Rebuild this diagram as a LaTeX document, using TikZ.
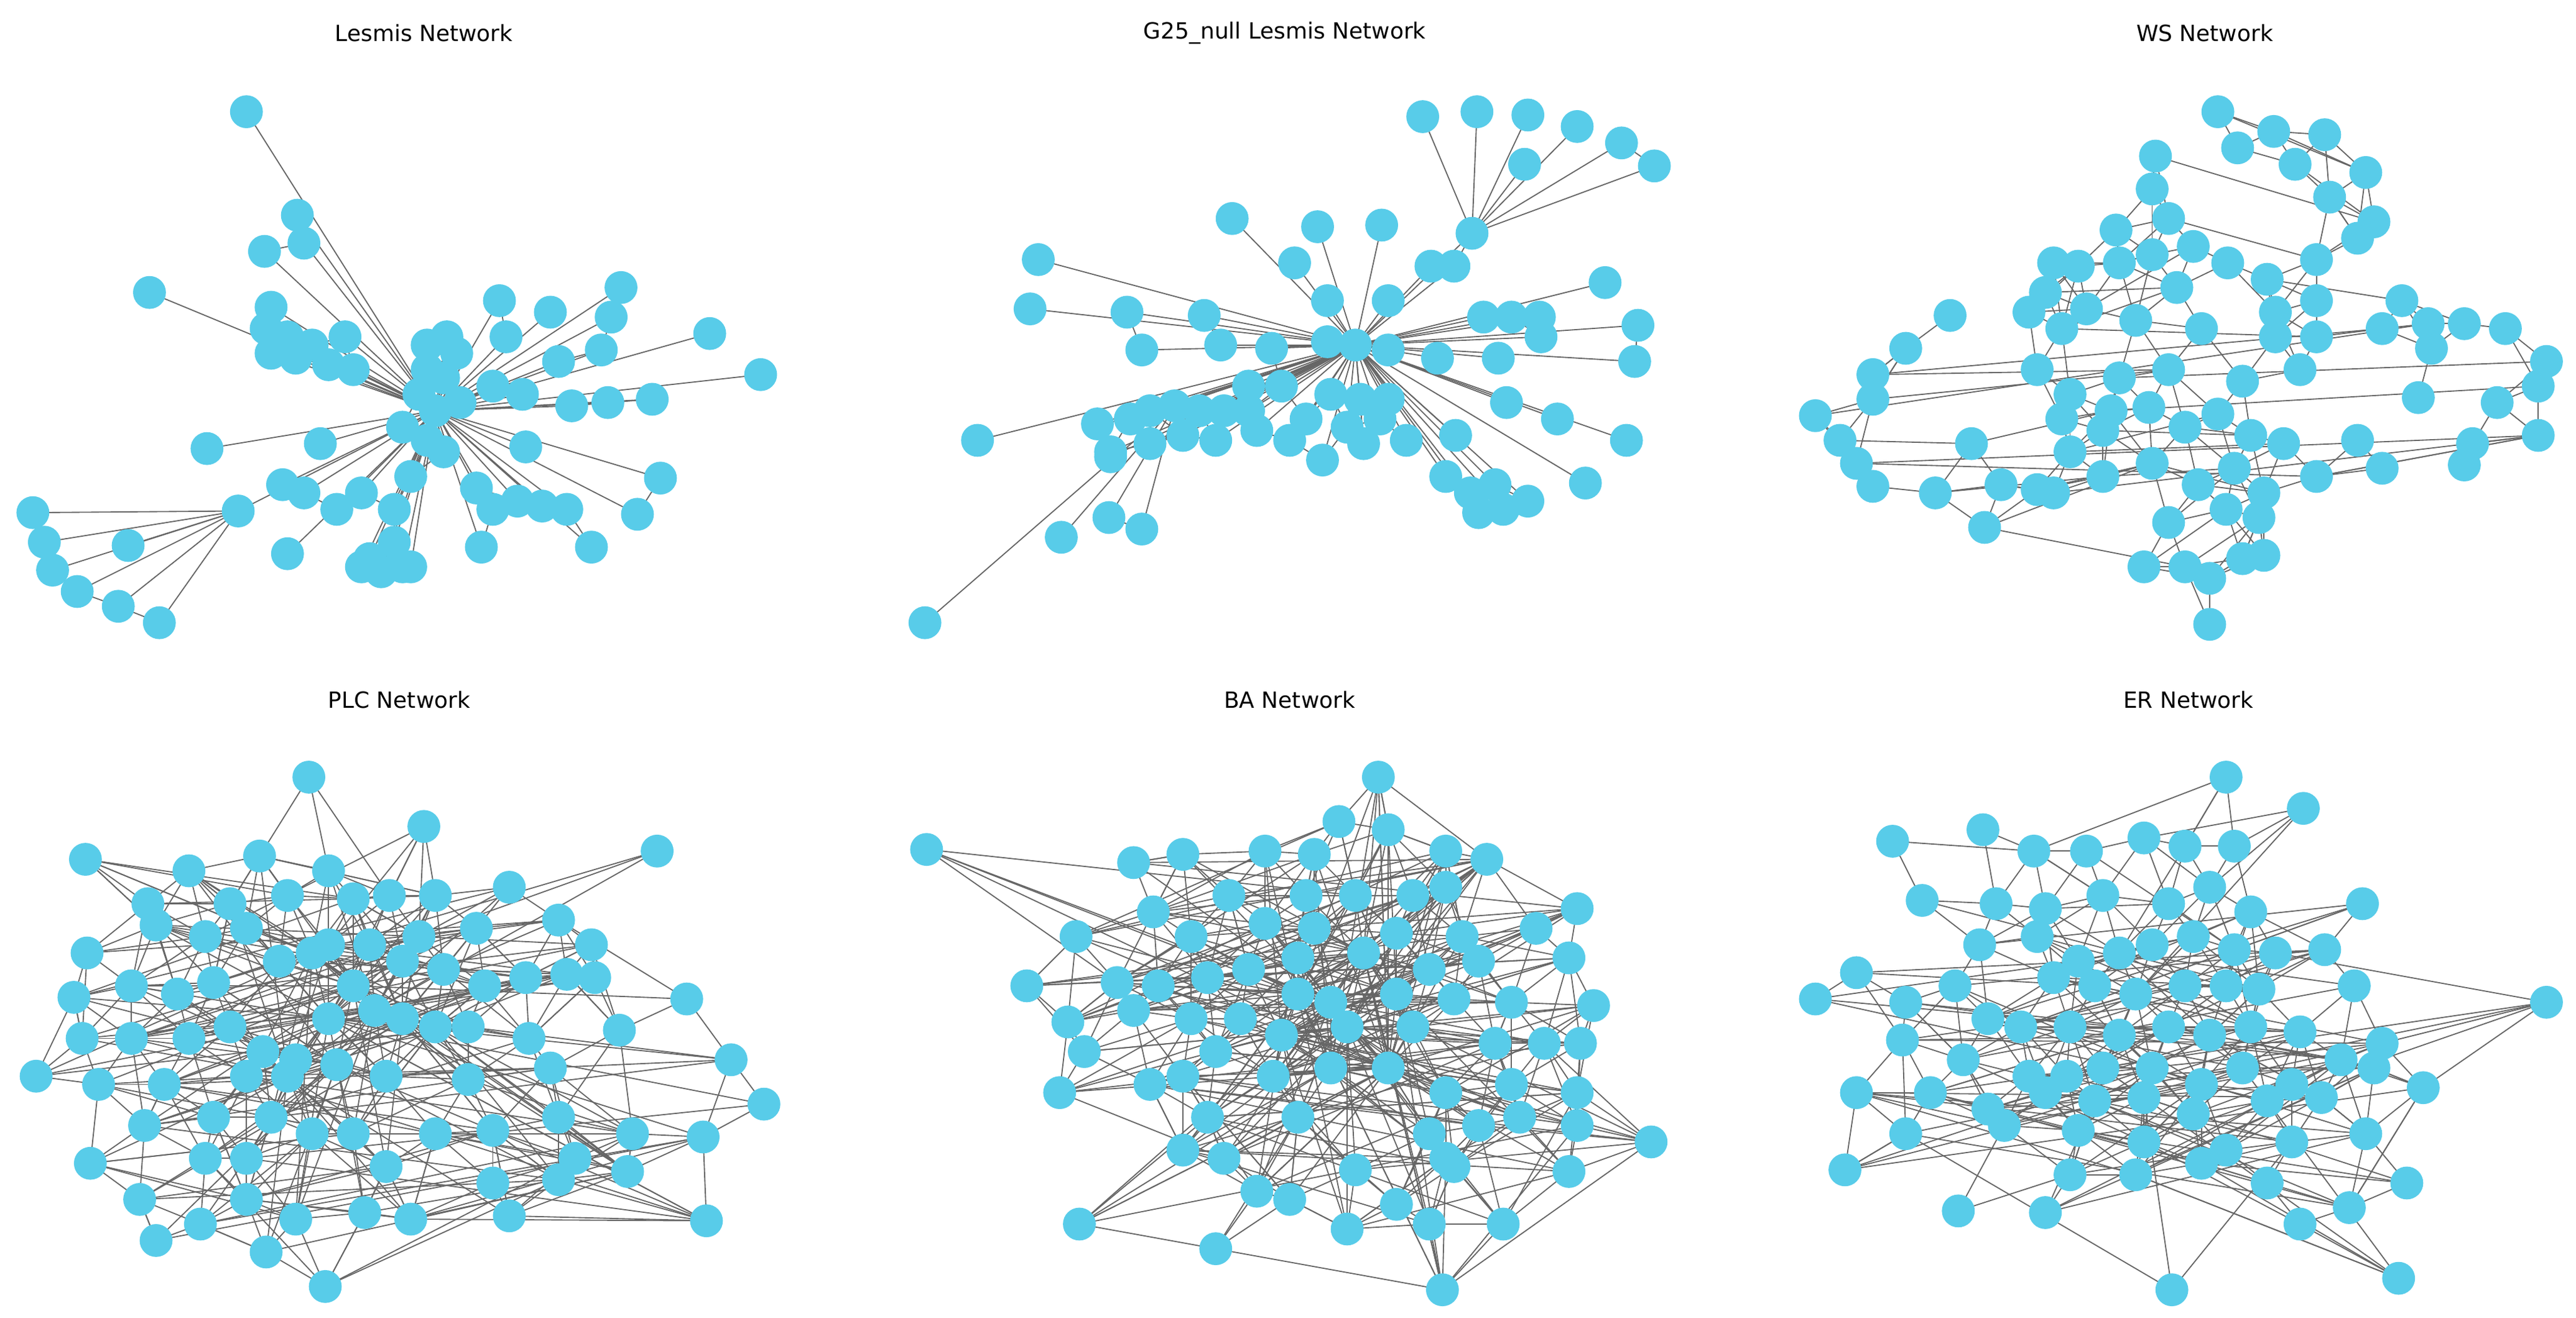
\documentclass[tikz,border=0pt]{standalone}
\usepackage{fontspec}
\setmainfont{DejaVu Sans}
\definecolor{nodec}{RGB}{88,204,233}
\tikzset{edge/.style={draw=black!60,line width=0.35pt},
 dot/.style={circle,fill=nodec,draw=none,minimum size=10pt,inner sep=0pt},
 ttl/.style={font=\fontsize{6.8}{8}\selectfont,anchor=center}}
\newcommand\panel[6]{% prefix, list macro, threshold, random count, span, seed
 \foreach \x/\y/\h [count=\i] in #2 {\coordinate (#1\i) at (\x,\y); \xdef\NN{\i}}
 \foreach \x/\y/\h [count=\i] in #2 {\ifnum\h>0 \draw[edge] (#1\i)--(#1\h);\fi}
 \foreach \xa/\ya/\ha [count=\i] in #2 {\foreach \xb/\yb/\hb [count=\j] in #2 {%
   \ifnum\j>\i \pgfmathparse{veclen(\xa-\xb,\ya-\yb)<#3?1:0}\ifnum\pgfmathresult=1 \draw[edge](#1\i)--(#1\j);\fi\fi}}
 \ifnum#4>0
 \pgfmathsetseed{#6}
 \foreach \k in {1,...,#4}{\pgfmathrandominteger{\ra}{1}{\NN}\pgfmathrandominteger{\rd}{1}{#5}%
   \pgfmathtruncatemacro{\rb}{\ra+\rd>\NN?\ra-\rd:\ra+\rd}\ifnum\rb>0 \draw[edge](#1\ra)--(#1\rb);\fi}
 \fi
}
\newcommand\hubedges[4]{% prefix, count, hub list {{a}{b}..}, seed
 \pgfmathsetseed{#4}
 \pgfmathdeclarerandomlist{hl#1}{#3}
 \foreach \k in {1,...,#2}{\pgfmathrandominteger{\ra}{1}{\NN}\pgfmathrandomitem{\rh}{hl#1}%
   \ifnum\ra=\rh\relax\else\draw[edge](#1\ra)--(#1\rh);\fi}
}
\newcommand\drawdots[2]{\foreach \x/\y/\h [count=\i] in #2 {\node[dot] (#1n\i) at (#1\i) {};}}
\begin{document}
\begin{tikzpicture}[x=0.5pt,y=-0.5pt]
\useasboundingbox (0,0) rectangle (1568,802);
\node[ttl] (t1) at (258,20) {Lesmis Network};
\node[ttl] (t2) at (782,20) {G25\_null Lesmis Network};
\node[ttl] (t3) at (1342,20) {WS Network};
\node[ttl] (t4) at (243,426) {PLC Network};
\node[ttl] (t5) at (785,426) {BA Network};
\node[ttl] (t6) at (1332,426) {ER Network};

\def\LA{150/68/21,181/131/21,185/148/21,161/153/21,91/178/21,165/187/21,162/200/21,175/205/21,190/210/21,210/205/21,165/215/21,180/218/21,200/222/21,215/225/21,260/210/21,272/205/21,278/215/21,260/225/21,270/230/21,255/240/21,265/250/20,280/245/21,300/235/21,245/260/21,260/268/21,270/275/21,304/183/21,335/190/21,378/175/21,372/193/21,308/205/21,366/213/21,432/203/21,463/228/21,340/220/21,318/240/21,348/247/21,370/245/21,397/243/21,126/273/21,195/270/21,320/272/21,250/290/21,290/297/21,220/300/21,172/295/21,185/300/21,145/311/21,240/310/21,300/310/21,315/305/21,330/308/21,402/291/21,388/313/21,345/310/21,20/312/48,27/330/48,78/332/48,32/347/48,47/360/48,72/369/48,97/379/48,175/337/21,225/340/21,240/330/21,245/345/21,220/345/21,232/348/21,250/345/21,293/333/21,360/333/21,205/310/21}
\panel{A}{\LA}{28}{0}{1}{1}\drawdots{A}{\LA}

\def\LB{866/71/8,899/68/8,930/70/8,960/77/8,987/87/8,1007/101/8,928/100/8,896/142/30,871/162/30,885/162/30,750/133/30,802/138/30,841/137/30,632/158/30,788/160/30,627/188/30,686/190/30,733/192/30,808/183/30,845/183/30,977/172/30,903/193/30,920/193/30,937/193/30,997/198/30,695/213/30,743/210/30,774/212/30,808/208/30,825/210/38,845/213/30,875/218/30,912/218/30,938/205/30,995/220/30,760/235/30,780/235/30,810/240/30,828/243/30,845/243/30,917/245/30,948/255/30,668/258/30,688/255/30,700/250/30,715/247/30,730/250/30,745/250/30,760/250/30,795/255/30,820/260/30,840/255/30,676/275/30,700/270/30,720/265/30,740/268/30,765/262/30,785/268/30,805/280/30,830/270/30,856/268/30,886/265/30,595/268/30,990/268/30,676/278/30,880/290/30,895/300/30,900/312/30,915/310/30,930/305/30,910/295/30,965/294/30,646/327/46,675/315/46,695/322/46,563/379/46}
\panel{B}{\LB}{25}{0}{1}{1}\drawdots{B}{\LB}

\def\LC{1350/68/0,1384/80/0,1415/82/0,1440/105/0,1362/90/0,1312/95/0,1397/100/0,1418/120/0,1445/135/0,1310/115/0,1320/133/0,1288/140/0,1435/145/0,1410/158/0,1250/160/0,1265/162/0,1290/160/0,1310/155/0,1335/150/0,1356/160/0,1380/170/0,1245/178/0,1270/188/0,1325/175/0,1385/190/0,1410/183/0,1462/183/0,1187/192/0,1235/190/0,1255/200/0,1300/195/0,1340/200/0,1385/205/0,1410/205/0,1450/200/0,1478/197/0,1500/197/0,1525/200/0,1160/212/0,1140/228/0,1140/243/0,1105/253/0,1240/225/0,1260/240/0,1290/230/0,1320/225/0,1365/232/0,1400/225/0,1480/212/0,1550/220/0,1545/235/0,1255/255/0,1285/250/0,1308/248/0,1350/252/0,1472/242/0,1520/245/0,1120/268/0,1200/270/0,1260/275/0,1280/262/0,1330/260/0,1370/265/0,1390/270/0,1435/268/0,1410/290/0,1450/285/0,1505/270/0,1500/283/0,1545/265/0,1130/282/0,1140/296/0,1178/300/0,1218/295/0,1250/300/0,1280/290/0,1310/282/0,1338/295/0,1360/285/0,1378/300/0,1208/321/0,1240/298/0,1355/310/0,1375/315/0,1320/318/0,1305/345/0,1330/345/0,1345/352/0,1365/340/0,1378/338/0,1345/380/0}
\panel{C}{\LC}{42}{40}{6}{3}\drawdots{C}{\LC}

\def\LD{188/473/5,52/523/0,115/530/0,158/521/0,200/530/0,258/503/0,310/540/0,400/518/0,90/550/0,140/550/0,175/545/0,215/547/0,237/545/0,265/545/0,53/580/0,95/563/0,125/570/0,150/565/0,200/575/0,225/575/0,255/570/0,290/565/0,340/560/0,360/575/0,45/607/0,80/600/0,108/605/0,130/598/0,170/585/0,190/580/0,215/600/0,245/585/0,270/590/0,295/600/0,320/595/0,345/593/0,362/595/0,418/608/0,50/632/0,80/632/0,115/632/0,140/625/0,160/640/0,180/645/0,200/620/0,228/615/0,245/620/0,265/625/0,285/625/0,322/632/0,377/627/0,22/655/0,60/660/0,100/660/0,150/655/0,175/655/0,205/648/0,235/655/0,285/657/0,335/650/0,445/645/0,465/672/0,88/685/0,130/680/0,165/680/0,190/690/0,215/690/0,265/690/0,300/688/0,340/680/0,385/690/0,428/692/0,55/708/0,125/705/0,150/705/0,235/710/0,300/720/0,340/718/0,350/705/0,382/713/0,85/730/0,122/745/0,150/730/0,180/742/0,222/738/0,250/742/0,310/740/0,430/743/0,95/755/0,162/762/0,198/783/0}
\panel{D}{\LD}{55}{150}{20}{5}
\hubedges{D}{110}{{30}{31}{45}{46}{47}{48}{56}{57}}{21}
\draw[edge] (D1)--(D13) (D1)--(D10);
\drawdots{D}{\LD}

\def\LE{839/473/0,815/500/0,845/505/0,564/517/26,690/525/0,720/520/0,770/518/0,800/520/0,880/518/0,905/523/0,702/555/0,748/545/0,795/545/0,825/545/0,860/545/0,880/540/0,960/553/0,655/570/0,725/570/0,770/562/0,800/565/0,850/568/0,890/570/0,935/565/0,625/600/0,680/598/0,705/600/0,735/595/0,760/590/0,790/583/0,830/580/0,870/590/0,900/585/0,955/583/0,650/622/0,690/615/0,725/620/0,755/620/0,790/605/0,810/610/0,850/605/0,885/608/0,920/610/0,970/612/0,660/640/0,740/640/0,780/630/0,820/625/0,860/625/0,910/635/0,940/635/0,962/635/0,645/665/0,700/660/0,720/655/0,775/655/0,810/650/0,845/650/0,880/665/0,920/660/0,960/665/0,735/680/0,790/680/0,870/690/0,900/685/0,925/680/0,960/685/0,1005/695/0,720/700/0,745/705/0,825/712/0,880/705/0,955/713/0,765/725/0,785/730/0,850/733/0,885/710/0,657/745/0,820/748/0,870/745/0,915/745/0,878/785/0,740/760/0}
\panel{E}{\LE}{55}{140}{20}{7}
\hubedges{E}{180}{{39}{40}{48}{57}{31}{47}{41}{58}}{13}
\drawdots{E}{\LE}

\def\LF{1355/473/0,1152/512/0,1207/505/0,1238/518/0,1270/518/0,1305/510/0,1330/515/0,1360/515/0,1402/492/0,1170/548/0,1215/550/0,1245/553/0,1280/545/0,1320/550/0,1345/540/0,1370/555/0,1438/550/0,1205/575/0,1240/570/0,1265/585/0,1290/580/0,1310/575/0,1335/570/0,1360/578/0,1385/580/0,1415/578/0,1130/592/0,1190/600/0,1250/595/0,1275/600/0,1300/605/0,1330/600/0,1355/600/0,1375/602/0,1433/600/0,1105/608/0,1160/610/0,1210/620/0,1230/625/0,1260/625/0,1290/630/0,1320/625/0,1345/630/0,1370/625/0,1400/628/0,1450/635/0,1550/610/68,1158/633/0,1195/645/0,1235/655/0,1258/655/0,1280/650/0,1310/650/0,1340/660/0,1365/650/0,1395/660/0,1425/645/0,1445/650/0,1130/665/0,1175/665/0,1210/675/0,1245/665/0,1275/670/0,1305/668/0,1335/678/0,1380/670/0,1413/668/0,1475/662/0,1160/690/0,1220/685/0,1265/688/0,1305/695/0,1355/700/0,1395/695/0,1440/690/0,1192/737/70,1123/712/69,1260/715/0,1300/715/0,1340/708/0,1380/720/0,1245/738/0,1400/745/0,1430/735/0,1465/720/0,1322/785/0,1460/778/0}
\panel{F}{\LF}{50}{150}{25}{11}
\draw[edge] (F76)--(F78) (F47)--(F46);
\drawdots{F}{\LF}
\end{tikzpicture}
\end{document}
